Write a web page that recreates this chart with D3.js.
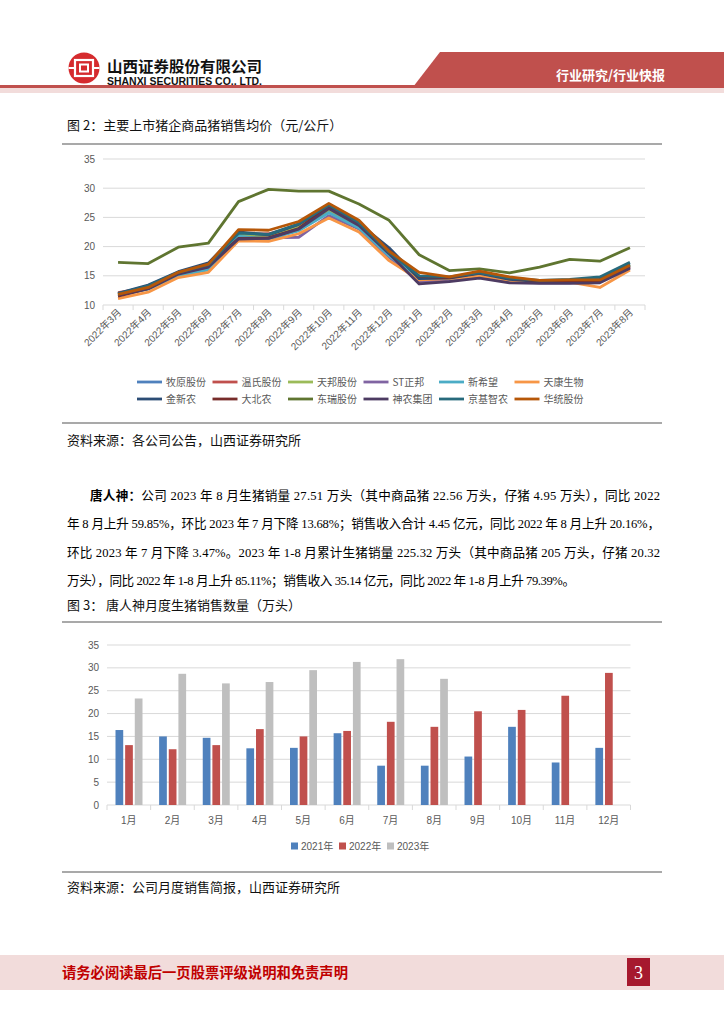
<!DOCTYPE html>
<html><head><meta charset="utf-8">
<script src="https://cdn.jsdelivr.net/npm/d3@7"></script>
<style>html,body{margin:0;padding:0;background:#fff;}svg{display:block;}</style>
</head><body>
<script>
// ---------- DATA ----------
const months = ["2022年3月","2022年4月","2022年5月","2022年6月","2022年7月","2022年8月","2022年9月","2022年10月","2022年11月","2022年12月","2023年1月","2023年2月","2023年3月","2023年4月","2023年5月","2023年6月","2023年7月","2023年8月"];
const seriesNames = ["牧原股份","温氏股份","天邦股份","ST正邦","新希望","天康生物","金新农","大北农","东瑞股份","神农集团","京基智农","华统股份"];
const muyuan   = [11.7,12.9,15.2,16.4,22.0,21.6,23.2,26.0,23.5,18.6,14.2,14.3,15.1,14.2,13.9,14.0,14.3,16.7];
const wenshi   = [12.1,13.0,15.5,16.6,22.1,22.2,23.6,26.6,23.8,18.9,14.8,14.6,15.3,14.4,14.0,14.1,14.2,16.6];
const tianbang = [11.8,13.2,15.4,16.7,22.0,21.8,23.3,26.3,23.6,18.7,14.4,14.6,15.3,14.5,14.1,14.0,14.4,16.9];
const zhengbang= [11.9,13.1,15.0,16.3,21.2,21.5,21.6,25.3,23.0,18.2,14.0,14.2,14.8,14.0,13.8,13.8,14.0,16.5];
const xinxiwang= [11.6,12.7,15.0,16.0,21.8,21.3,22.7,25.8,23.2,18.4,14.7,14.5,15.2,14.3,13.9,14.0,14.2,16.8];
const tiankang = [11.1,12.2,14.7,15.6,21.0,20.9,22.2,24.9,22.5,17.6,14.3,14.5,15.0,14.2,13.9,13.9,13.0,16.0];
const jinxinnong=[12.0,13.4,15.7,17.2,22.5,22.0,23.8,27.0,24.0,19.8,14.5,14.6,15.4,14.4,14.0,14.1,14.4,17.0];
const dabeinong= [11.5,12.8,15.4,16.8,21.4,21.5,23.1,26.8,24.0,19.3,14.9,14.7,15.5,14.6,14.1,14.2,14.1,16.4];
const dongrui  = [17.3,17.1,19.9,20.6,27.7,29.8,29.5,29.5,27.3,24.5,18.6,15.9,16.2,15.5,16.5,17.8,17.5,19.8];
const shennong = [11.7,12.8,15.3,16.5,21.3,21.4,23.0,26.5,23.6,18.8,13.6,14.0,14.6,13.8,13.7,13.7,13.8,16.3];
const jingji   = [11.9,13.3,15.6,16.9,22.3,22.1,23.9,27.1,24.1,19.0,15.0,14.8,15.5,14.6,14.2,14.4,14.8,17.3];
const huatong  = [11.8,13.0,15.6,17.0,22.9,22.8,24.3,27.4,24.5,19.2,15.6,14.8,15.8,14.8,14.2,14.3,14.3,16.8];
const lineTicks = [10,15,20,25,30,35];

const barMonths = ["1月","2月","3月","4月","5月","6月","7月","8月","9月","10月","11月","12月"];
const barYears = ["2021年","2022年","2023年"];
const sales2021 = [16.4,15.0,14.7,12.4,12.5,15.7,8.6,8.6,10.6,17.1,9.3,12.5];
const sales2022 = [13.1,12.2,13.1,16.6,15.0,16.2,18.2,17.1,20.5,20.8,23.9,28.9];
const sales2023 = [23.3,28.7,26.6,26.9,29.5,31.3,31.9,27.6,null,null,null,null];
const barTicks = [0,5,10,15,20,25,30,35];

// ---------- STYLE ----------
const lineColors = ["#4F81BD","#C0504D","#9BBB59","#8064A2","#4BACC6","#F79646","#2C4D75","#772C2A","#5F7530","#4D3B62","#276A7C","#B65708"];
const barColors = ["#4F81BD","#C0504D","#BFBFBF"];
const CJK = "'Noto Sans CJK SC', sans-serif";
const AX = "'Liberation Sans','Noto Sans CJK SC', sans-serif";
const SERIF = "'Liberation Serif','Noto Sans CJK SC', serif";

const svg = d3.select("body").append("svg").attr("width",724).attr("height",1024);
svg.append("rect").attr("width",724).attr("height",1024).attr("fill","#fff");

// ---------- HEADER ----------
const logo = svg.append("g").attr("transform","translate(84,68)");
logo.append("circle").attr("r",15.5).attr("fill","#d52b2e");
logo.append("rect").attr("x",-9).attr("y",-8).attr("width",18).attr("height",16).attr("fill","none").attr("stroke","#fff").attr("stroke-width",2.2);
logo.append("rect").attr("x",-4).attr("y",-3.5).attr("width",8).attr("height",7).attr("fill","none").attr("stroke","#fff").attr("stroke-width",2);
logo.append("rect").attr("x",-15.5).attr("y",-1).attr("width",6).attr("height",2).attr("fill","#fff");
logo.append("rect").attr("x",9.5).attr("y",-1).attr("width",6).attr("height",2).attr("fill","#fff");
svg.append("text").attr("x",107).attr("y",72).attr("font-family",CJK).attr("font-weight",700).attr("font-size",15)
  .attr("textLength",155).attr("lengthAdjust","spacingAndGlyphs").attr("fill","#111").text("山西证券股份有限公司");
svg.append("text").attr("x",107).attr("y",84.5).attr("font-family","'Liberation Sans',sans-serif").attr("font-weight",700).attr("font-size",10)
  .attr("textLength",155).attr("lengthAdjust","spacingAndGlyphs").attr("fill","#111").text("SHANXI SECURITIES CO., LTD.");
svg.append("polygon").attr("points","440,52 724,52 724,87 413,87").attr("fill","#c0504d");
svg.append("rect").attr("x",0).attr("y",85).attr("width",724).attr("height",3).attr("fill","#c0504d");
svg.append("rect").attr("x",0).attr("y",88).attr("width",724).attr("height",5).attr("fill","#f2dcdb");
svg.append("text").attr("x",556).attr("y",80).attr("font-family",CJK).attr("font-weight",700).attr("font-size",13)
  .attr("fill","#fff").text("行业研究/行业快报");

// ---------- FIGURE 2 ----------
svg.append("text").attr("x",67).attr("y",130).attr("font-family",CJK).attr("font-size",13).attr("fill","#111").text("图 2：主要上市猪企商品猪销售均价（元/公斤）");
svg.append("line").attr("x1",62).attr("x2",662).attr("y1",144).attr("y2",144).attr("stroke","#555").attr("stroke-width",1.2);
svg.append("line").attr("x1",62).attr("x2",662).attr("y1",423).attr("y2",423).attr("stroke","#555").attr("stroke-width",1.2);
svg.append("text").attr("x",67).attr("y",445).attr("font-family",CJK).attr("font-size",13).attr("fill","#111").text("资料来源：各公司公告，山西证券研究所");

const xl = d3.scaleBand().domain(months).range([103,645]);
const yl = d3.scaleLinear().domain([10,35]).range([305,159]);
const g1 = svg.append("g");
g1.selectAll("line.grid").data(lineTicks).join("line").attr("x1",103).attr("x2",645)
  .attr("y1",d=>yl(d)).attr("y2",d=>yl(d)).attr("stroke","#d9d9d9").attr("stroke-width",1);
g1.selectAll("text.yt").data(lineTicks).join("text").attr("x",95).attr("y",d=>yl(d)).attr("dy","0.35em")
  .attr("text-anchor","end").attr("font-family",AX).attr("font-size",10).attr("fill","#595959").text(d=>d);
const tickXs = months.map(m=>xl(m)).concat([xl(months[months.length-1])+xl.bandwidth()]);
g1.selectAll("line.xt").data(tickXs).join("line").attr("x1",d=>d).attr("x2",d=>d).attr("y1",305).attr("y2",310).attr("stroke","#d9d9d9");
g1.selectAll("text.xl").data(months).join("text")
  .attr("transform",d=>`translate(${xl(d)+xl.bandwidth()/2+4},${313}) rotate(-45)`)
  .attr("text-anchor","end").attr("font-family",AX).attr("font-size",10).attr("fill","#595959").text(d=>d);

const allSeries = [muyuan,wenshi,tianbang,zhengbang,xinxiwang,tiankang,jinxinnong,dabeinong,dongrui,shennong,jingji,huatong];
const line = d3.line().x((d,i)=>xl(months[i])+xl.bandwidth()/2).y(d=>yl(d));
g1.selectAll("path.s").data(allSeries).join("path").attr("d",d=>line(d)).attr("fill","none")
  .attr("stroke",(d,i)=>lineColors[i]).attr("stroke-width",2.8).attr("stroke-linejoin","round");

// legend
const leg = svg.append("g");
seriesNames.forEach((n,i)=>{
  const col=i%6, row=Math.floor(i/6);
  const lx = 137 + col*75.5, ly = 382 + row*17;
  leg.append("line").attr("x1",lx).attr("x2",lx+25).attr("y1",ly).attr("y2",ly).attr("stroke",lineColors[i]).attr("stroke-width",2.8);
  leg.append("text").attr("x",lx+29).attr("y",ly).attr("dy","0.35em").attr("font-family",CJK).attr("font-size",10).attr("fill","#595959").text(n);
});

// ---------- PARAGRAPH ----------
const P = svg.append("g").attr("font-family",SERIF).attr("font-size",12.6).attr("fill","#000");
const t1 = P.append("text").attr("x",90).attr("y",500).attr("textLength",570).attr("lengthAdjust","spacing");
t1.append("tspan").attr("font-weight",700).attr("font-family",CJK).text("唐人神：");
t1.append("tspan").text("公司 2023 年 8 月生猪销量 27.51 万头（其中商品猪 22.56 万头，仔猪 4.95 万头），同比 2022");
P.append("text").attr("x",67).attr("y",528).attr("textLength",593).attr("lengthAdjust","spacing")
  .text("年 8 月上升 59.85%，环比 2023 年 7 月下降 13.68%；销售收入合计 4.45 亿元，同比 2022 年 8 月上升 20.16%，");
P.append("text").attr("x",67).attr("y",557).attr("textLength",593).attr("lengthAdjust","spacing")
  .text("环比 2023 年 7 月下降 3.47%。2023 年 1-8 月累计生猪销量 225.32 万头（其中商品猪 205 万头，仔猪 20.32");
P.append("text").attr("x",67).attr("y",585).attr("textLength",508).attr("lengthAdjust","spacing")
  .text("万头），同比 2022 年 1-8 月上升 85.11%；销售收入 35.14 亿元，同比 2022 年 1-8 月上升 79.39%。");

// ---------- FIGURE 3 ----------
svg.append("text").attr("x",67).attr("y",610).attr("font-family",CJK).attr("font-size",13).attr("fill","#111").text("图 3：  唐人神月度生猪销售数量（万头）");
svg.append("line").attr("x1",62).attr("x2",662).attr("y1",622).attr("y2",622).attr("stroke","#555").attr("stroke-width",1.2);
svg.append("line").attr("x1",62).attr("x2",662).attr("y1",872).attr("y2",872).attr("stroke","#555").attr("stroke-width",1.2);
svg.append("text").attr("x",67).attr("y",892).attr("font-family",CJK).attr("font-size",13).attr("fill","#111").text("资料来源：公司月度销售简报，山西证券研究所");

const xb = d3.scaleBand().domain(barMonths).range([107,630.5]);
const xin = d3.scaleBand().domain(barYears).range([8.5,35.5]).paddingInner(0.2);
const yb = d3.scaleLinear().domain([0,35]).range([805,645]);
const g2 = svg.append("g");
g2.selectAll("line.grid").data(barTicks).join("line").attr("x1",107).attr("x2",630.5)
  .attr("y1",d=>yb(d)).attr("y2",d=>yb(d)).attr("stroke","#d9d9d9");
g2.selectAll("text.yt").data(barTicks).join("text").attr("x",99).attr("y",d=>yb(d)).attr("dy","0.35em")
  .attr("text-anchor","end").attr("font-family",AX).attr("font-size",10).attr("fill","#595959").text(d=>d);
const bTicks = barMonths.map(m=>xb(m)).concat([630.5]);
g2.selectAll("line.xt").data(bTicks).join("line").attr("x1",d=>d).attr("x2",d=>d).attr("y1",805).attr("y2",810).attr("stroke","#d9d9d9");
g2.selectAll("text.xl").data(barMonths).join("text").attr("x",d=>xb(d)+xb.bandwidth()/2).attr("y",824)
  .attr("text-anchor","middle").attr("font-family",AX).attr("font-size",10).attr("fill","#595959").text(d=>d);
const barSeries = [sales2021,sales2022,sales2023];
barSeries.forEach((vals,si)=>{
  g2.selectAll(null).data(vals.map((v,i)=>({v,m:barMonths[i]})).filter(d=>d.v!=null)).join("rect")
    .attr("x",d=>xb(d.m)+xin(barYears[si])).attr("width",xin.bandwidth())
    .attr("y",d=>yb(d.v)).attr("height",d=>805-yb(d.v)).attr("fill",barColors[si]);
});
const bl = svg.append("g");
const legX = [291,339,387];
barYears.forEach((y,i)=>{
  bl.append("rect").attr("x",legX[i]).attr("y",842.5).attr("width",7).attr("height",7).attr("fill",barColors[i]);
  bl.append("text").attr("x",legX[i]+10).attr("y",846).attr("dy","0.35em").attr("font-family",AX).attr("font-size",10).attr("fill","#595959").text(y);
});

// ---------- FOOTER ----------
svg.append("rect").attr("x",0).attr("y",955).attr("width",724).attr("height",35).attr("fill","#f2dcdb");
svg.append("text").attr("x",62).attr("y",978).attr("font-family",CJK).attr("font-weight",700).attr("font-size",14.3)
  .attr("fill","#c00000").text("请务必阅读最后一页股票评级说明和免责声明");
svg.append("rect").attr("x",627).attr("y",958).attr("width",23).attr("height",28).attr("fill","#a6192e");
svg.append("text").attr("x",638.5).attr("y",979).attr("text-anchor","middle").attr("font-family","'Liberation Serif',serif")
  .attr("font-size",18).attr("fill","#fff").text("3");
</script>
</body></html>
